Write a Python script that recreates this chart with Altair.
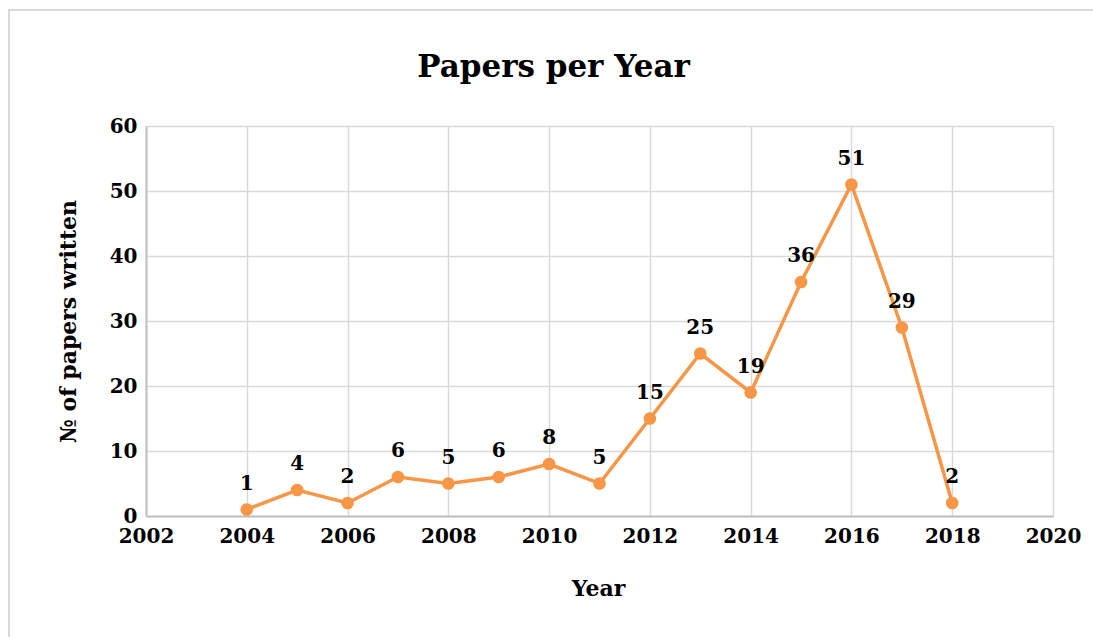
import altair as alt
import pandas as pd

years = [2004, 2005, 2006, 2007, 2008, 2009, 2010, 2011, 2012, 2013, 2014, 2015, 2016, 2017, 2018]
papers = [1, 4, 2, 6, 5, 6, 8, 5, 15, 25, 19, 36, 51, 29, 2]
x_ticks = [2002, 2004, 2006, 2008, 2010, 2012, 2014, 2016, 2018, 2020]
y_ticks = [0, 10, 20, 30, 40, 50, 60]

df = pd.DataFrame({"Year": years, "Papers": papers})

FONT = "DejaVu Serif"
ORANGE = "#F79646"

x = alt.X("Year:Q", scale=alt.Scale(domain=[2002, 2020], nice=False, zero=False),
          axis=alt.Axis(values=x_ticks, format="d", title="Year", titleX=452, titleY=72,
                        titleBaseline="middle", titleAlign="center",
                        labelPadding=10, labelFlush=False))
y = alt.Y("Papers:Q", scale=alt.Scale(domain=[0, 60], nice=False),
          axis=alt.Axis(values=y_ticks, title="№ of papers written", titleAngle=-90,
                        titleX=-78, titleY=195, titleAlign="center", titleBaseline="middle",
                        labelPadding=9))

border = alt.Chart(pd.DataFrame({"a": [0]})).mark_rect(
    fill=None, stroke="#d9d9d9", strokeWidth=2
).encode(x=alt.value(-137), x2=alt.value(980), y=alt.value(-116), y2=alt.value(540))

line = alt.Chart(df).mark_line(color=ORANGE, strokeWidth=3.5).encode(x=x, y=y)
pts = alt.Chart(df).mark_point(filled=True, color=ORANGE, size=160, opacity=1).encode(x=x, y=y)
labels = alt.Chart(df).mark_text(font=FONT, fontWeight="bold", fontSize=20, dy=-20,
                                 baseline="alphabetic", color="#000000").encode(
    x=x, y=y, text="Papers:Q")

chart = alt.layer(border, line, pts, labels).properties(
    width=907, height=390,
    autosize=alt.AutoSizeParams(type="none"),
    padding={"left": 146, "top": 126, "right": 40, "bottom": 121},
    title=alt.TitleParams("Papers per Year", font=FONT, fontSize=31, fontWeight="bold",
                          color="#000000", anchor="middle", dx=-46, offset=0, dy=99,
                          baseline="alphabetic"),
).configure_axis(
    labelFont=FONT, labelFontWeight="bold", labelFontSize=20, labelColor="#000000",
    titleFont=FONT, titleFontWeight="bold", titleFontSize=22, titleColor="#000000",
    gridColor="#d9d9d9", gridWidth=1.5, domainColor="#bfbfbf", domainWidth=2,
    ticks=False,
).configure_view(stroke=None)

chart.save("out.html", embed_options={"renderer": "svg", "actions": False})
